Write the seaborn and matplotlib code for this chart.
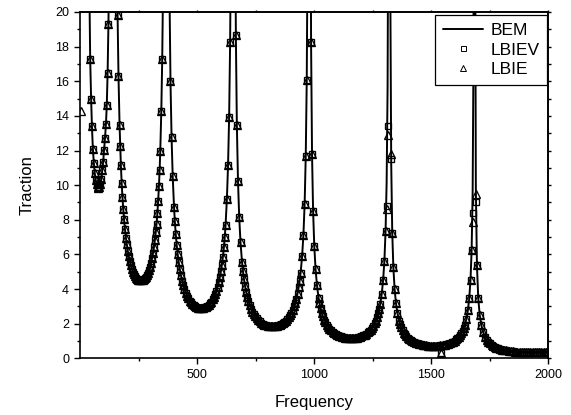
import numpy as np
import pandas as pd
import matplotlib
matplotlib.use("Agg")
import matplotlib.pyplot as plt
import seaborn as sns
from matplotlib.lines import Line2D
from matplotlib.ticker import FixedLocator, MultipleLocator, NullFormatter

# ---------------- data ----------------
# lowest-frequency branch (left of the ~143 Hz resonance)
seg0_freq = [36, 40, 43.5, 47.5, 51, 55, 59, 63, 67, 71, 75, 79, 83, 87, 91, 95, 99,
             103, 107, 111, 114.5, 118, 121.5, 125, 129, 133, 137, 140.5]
seg0_val = [28.0, 21.5, 17.3, 15.0, 13.4, 12.1, 11.3, 10.7, 10.3, 10.05, 9.92, 9.85, 9.9,
            10.05, 10.35, 10.85, 11.35, 12.05, 12.75, 13.55, 14.65, 16.5, 19.3, 23.5, 30.5,
            42.0, 66.0, 140.0]

# 143 Hz -> 369 Hz
s1_freq = [143.9, 145.7, 148.0, 150.7, 153.6, 157.0, 160.6, 164.5, 169.0, 174.6, 181.4, 188.2,
           196.1, 204.0, 213.1, 222.1, 231.1, 240.2, 249.2, 262.8, 271.8, 280.9, 289.9, 298.9,
           308.0, 315.9, 323.8, 330.6, 337.4, 343.0, 347.5, 351.4, 355.0, 358.4, 361.3, 364.0,
           366.3, 368.1]
s1_val = [386.6, 128.7, 70.2, 45.4, 32.8, 24.9, 19.8, 16.3, 13.5, 11.18, 9.31, 8.02, 6.97, 6.22,
          5.61, 5.17, 4.87, 4.66, 4.54, 4.50, 4.56, 4.70, 4.93, 5.28, 5.78, 6.40, 7.29, 8.37,
          9.96, 11.95, 14.31, 17.30, 21.6, 28.4, 39.1, 60.2, 110.1, 329.8]
s1v_freq = [171.7, 178.0, 184.8, 192.0, 200.0, 208.5, 217.6, 226.6, 235.7, 244.7, 253.7, 258.3,
            267.3, 276.3, 285.4, 294.4, 303.5, 312.0, 320.0, 327.2, 334.0, 340.3]
s1v_val = [12.28, 10.15, 8.61, 7.47, 6.58, 5.89, 5.37, 5.01, 4.75, 4.59, 4.51, 4.50, 4.52, 4.62,
           4.80, 5.09, 5.50, 6.07, 6.82, 7.78, 9.09, 10.88]

# 369 Hz -> 655 Hz
s2_freq = [370.1, 372.4, 375.3, 378.7, 382.4, 386.7, 391.3, 396.2, 401.9, 409.0, 417.6, 426.2,
           436.2, 446.2, 457.7, 469.1, 480.5, 492.0, 503.4, 520.6, 532.0, 543.5, 554.9, 566.3,
           577.8, 587.8, 597.8, 606.4, 615.0, 622.1, 627.8, 632.7, 637.3, 641.6, 645.3, 648.7,
           651.6, 653.9]
s2_val = [249.1, 82.9, 45.2, 29.2, 21.1, 16.0, 12.76, 10.50, 8.71, 7.20, 6.00, 5.17, 4.49, 4.01,
          3.61, 3.33, 3.14, 3.00, 2.93, 2.90, 2.94, 3.03, 3.18, 3.40, 3.72, 4.13, 4.70, 5.40,
          6.42, 7.70, 9.22, 11.15, 13.93, 18.28, 25.2, 38.8, 70.9, 212.5]
s2v_freq = [405.3, 413.3, 421.9, 431.1, 441.1, 451.9, 463.4, 474.8, 486.3, 497.7, 509.1, 514.9,
            526.3, 537.7, 549.2, 560.6, 572.1, 582.9, 592.9, 602.1, 610.7, 618.7]
s2v_val = [7.91, 6.54, 5.55, 4.81, 4.24, 3.79, 3.46, 3.23, 3.06, 2.96, 2.91, 2.90, 2.91, 2.98,
           3.09, 3.28, 3.55, 3.91, 4.39, 5.02, 5.86, 7.01]

# 655 Hz -> 980 Hz
s3_freq = [656.3, 658.9, 662.2, 666.1, 670.3, 675.2, 680.4, 685.9, 692.4, 700.5, 710.3, 720.0,
           731.4, 742.8, 755.8, 768.8, 781.8, 794.8, 807.8, 827.3, 840.3, 853.3, 866.3, 879.3,
           892.3, 903.6, 915.0, 924.8, 934.5, 942.6, 949.1, 954.7, 959.9, 964.7, 969.0, 972.9,
           976.1, 978.7]
s3_val = [158.9, 52.9, 28.8, 18.65, 13.49, 10.23, 8.14, 6.70, 5.56, 4.60, 3.83, 3.30, 2.87, 2.56,
          2.31, 2.13, 2.00, 1.92, 1.87, 1.85, 1.87, 1.93, 2.03, 2.17, 2.38, 2.63, 3.00, 3.44,
          4.10, 4.91, 5.88, 7.11, 8.89, 11.66, 16.06, 24.7, 45.2, 135.6]
s3v_freq = [696.3, 705.4, 715.1, 725.5, 736.9, 749.3, 762.3, 775.3, 788.3, 801.3, 814.3, 820.8,
            833.8, 846.8, 859.8, 872.8, 885.8, 898.1, 909.5, 919.9, 929.6, 938.7]
s3v_val = [5.05, 4.17, 3.54, 3.07, 2.70, 2.42, 2.21, 2.06, 1.95, 1.89, 1.85, 1.85, 1.86, 1.90,
           1.97, 2.09, 2.26, 2.50, 2.80, 3.20, 3.74, 4.47]

# 980 Hz -> 1322 Hz
s4_freq = [981.4, 984.1, 987.5, 991.6, 996.1, 1001.2, 1006.7, 1012.5, 1019.3, 1027.9, 1038.1,
           1048.4, 1060.4, 1072.3, 1086.0, 1099.7, 1113.4, 1127.1, 1140.7, 1161.3, 1174.9,
           1188.6, 1202.3, 1216.0, 1229.7, 1241.6, 1253.6, 1263.9, 1274.1, 1282.7, 1289.5,
           1295.3, 1300.8, 1305.9, 1310.4, 1314.5, 1317.9, 1320.6]
s4_val = [100.5, 33.5, 18.24, 11.79, 8.53, 6.47, 5.15, 4.24, 3.51, 2.91, 2.42, 2.09, 1.81, 1.62,
          1.46, 1.34, 1.27, 1.21, 1.18, 1.17, 1.19, 1.22, 1.28, 1.37, 1.50, 1.66, 1.89, 2.18,
          2.59, 3.11, 3.72, 4.50, 5.62, 7.38, 10.16, 15.65, 28.6, 85.7]
s4v_freq = [1023.4, 1033.0, 1043.3, 1054.2, 1066.2, 1079.2, 1092.9, 1106.5, 1120.2, 1133.9,
            1147.6, 1154.4, 1168.1, 1181.8, 1195.5, 1209.1, 1222.8, 1235.8, 1247.8, 1258.7,
            1269.0, 1278.6]
s4v_val = [3.19, 2.64, 2.24, 1.94, 1.71, 1.53, 1.40, 1.30, 1.24, 1.19, 1.17, 1.17, 1.18, 1.20,
           1.25, 1.32, 1.43, 1.58, 1.77, 2.02, 2.36, 2.83]

# 1322 Hz -> 1686 Hz
s5_freq = [1323.5, 1326.4, 1330.0, 1334.4, 1339.1, 1344.6, 1350.4, 1356.6, 1363.9, 1373.0,
           1383.9, 1394.8, 1407.5, 1420.3, 1434.8, 1449.4, 1464.0, 1478.5, 1493.1, 1514.9,
           1529.5, 1544.0, 1558.6, 1573.2, 1587.7, 1600.5, 1613.2, 1624.1, 1635.0, 1644.1,
           1651.4, 1657.6, 1663.4, 1668.9, 1673.6, 1678.0, 1681.6, 1684.5]
s5_val = [61.8, 20.6, 11.22, 7.26, 5.25, 3.98, 3.17, 2.61, 2.16, 1.79, 1.49, 1.28, 1.12, 1.00,
          0.90, 0.83, 0.78, 0.75, 0.73, 0.72, 0.73, 0.75, 0.79, 0.84, 0.92, 1.02, 1.17, 1.34,
          1.59, 1.91, 2.29, 2.77, 3.46, 4.54, 6.25, 9.63, 17.61, 52.8]
s5v_freq = [1368.2, 1378.4, 1389.3, 1401.0, 1413.7, 1427.6, 1442.1, 1456.7, 1471.2, 1485.8,
            1500.4, 1507.6, 1522.2, 1536.8, 1551.3, 1565.9, 1580.4, 1594.3, 1607.0, 1618.7,
            1629.6, 1639.8]
s5v_val = [1.96, 1.62, 1.38, 1.19, 1.05, 0.94, 0.86, 0.80, 0.76, 0.73, 0.72, 0.72, 0.72, 0.74,
           0.77, 0.81, 0.88, 0.97, 1.09, 1.25, 1.45, 1.74]

# 1686 Hz -> 2000 Hz
s6_freq = [1687.9, 1691.6, 1696.3, 1701.9, 1708.0, 1715.1, 1722.6, 1730.6, 1739.9, 1751.7,
           1765.7, 1779.8, 1796.2, 1812.6, 1831.4, 1850.2, 1868.9, 1887.7, 1906.4, 1934.6,
           1953.3, 1972.1, 1990.9, 2000.0]
s6_val = [29.6, 9.87, 5.38, 3.48, 2.52, 1.91, 1.52, 1.25, 1.04, 0.857, 0.713, 0.615, 0.534,
          0.477, 0.430, 0.396, 0.373, 0.357, 0.348, 0.345, 0.350, 0.360, 0.378, 0.390]
s6v_freq = [1745.6, 1758.7, 1772.8, 1787.8, 1804.2, 1822.0, 1840.8, 1859.5, 1878.3, 1897.1,
            1915.8, 1925.2, 1944.0, 1962.7, 1981.5]
s6v_val = [0.941, 0.778, 0.660, 0.572, 0.504, 0.451, 0.412, 0.384, 0.364, 0.352, 0.346, 0.345,
           0.347, 0.354, 0.368]

# where the LBIEV / LBIE markers depart from the BEM curve
lbiev_fix = {1310.4: 8.8, 1314.5: 13.4, 1330.0: 11.5, 1544.0: 0.30, 1678.0: 8.4, 1691.6: 9.0}
lbie_fix = {1310.4: 8.6, 1314.5: 12.9, 1330.0: 11.8, 1544.0: 0.30, 1678.0: 7.9, 1691.6: 9.5}
lbie_extra_freq = [5.0]
lbie_extra_val = [14.3]

series_labels = ["BEM", "LBIEV", "LBIE"]
x_label = "Frequency"
y_label = "Traction"

# ---------------- build tables ----------------
freq = np.concatenate([seg0_freq, s1_freq, s1v_freq, s2_freq, s2v_freq, s3_freq, s3v_freq,
                       s4_freq, s4v_freq, s5_freq, s5v_freq, s6_freq, s6v_freq])
bem = np.concatenate([seg0_val, s1_val, s1v_val, s2_val, s2v_val, s3_val, s3v_val,
                      s4_val, s4v_val, s5_val, s5v_val, s6_val, s6v_val])

df = pd.DataFrame({"Frequency": freq, "BEM": bem}).sort_values("Frequency").reset_index(drop=True)
df["LBIEV"] = df["Frequency"].map(lbiev_fix).fillna(df["BEM"])
df["LBIE"] = df["Frequency"].map(lbie_fix).fillna(df["BEM"])
df_lbie = pd.concat([pd.DataFrame({"Frequency": lbie_extra_freq, "LBIE": lbie_extra_val}),
                     df[["Frequency", "LBIE"]]], ignore_index=True)

# ---------------- style ----------------
sns.set_theme(style="ticks", rc={
    "axes.edgecolor": "black", "xtick.color": "black", "ytick.color": "black",
    "text.color": "black", "axes.labelcolor": "black", "axes.linewidth": 1.2,
})
plt.rcParams["font.family"] = ["Liberation Sans", "DejaVu Sans"]

W, H = 571, 415
fig = plt.figure(figsize=(W / 100, H / 100), dpi=100)
ax = fig.add_axes([80 / W, 1 - 358.3 / H, 468 / W, 346.3 / H])

sns.lineplot(data=df, x="Frequency", y="BEM", ax=ax, color="black", linewidth=1.4,
             estimator=None, sort=False, zorder=2)
sns.lineplot(data=df, x="Frequency", y="LBIEV", ax=ax, color="black", linestyle="none",
             marker="s", markersize=4.8, markerfacecolor="none", markeredgecolor="black",
             markeredgewidth=0.95, estimator=None, sort=False, zorder=3)
sns.lineplot(data=df_lbie, x="Frequency", y="LBIE", ax=ax, color="black", linestyle="none",
             marker="^", markersize=5.3, markerfacecolor="none", markeredgecolor="black",
             markeredgewidth=0.95, estimator=None, sort=False, zorder=3)

ax.set_xlim(0, 2000)
ax.set_ylim(0, 20)
ax.xaxis.set_major_locator(FixedLocator([500, 1000, 1500, 2000]))
ax.xaxis.set_minor_locator(FixedLocator([250, 750, 1250, 1750]))
ax.yaxis.set_major_locator(MultipleLocator(2))
ax.yaxis.set_minor_locator(MultipleLocator(1))
ax.tick_params(which="major", direction="out", length=4.3, width=1.0, labelsize=9, pad=3.5)
ax.tick_params(which="minor", direction="out", length=2.5, width=1.0)

ax.set_xlabel(x_label, fontsize=12, labelpad=10)
ax.set_ylabel(y_label, fontsize=12, labelpad=15)

for sp in ax.spines.values():
    sp.set_visible(True)
    sp.set_linewidth(1.2)

# small outward ticks on top and right edges
secx = ax.secondary_xaxis("top")
secx.xaxis.set_major_locator(FixedLocator([250, 500, 750, 1000, 1250, 1500, 1750, 2000]))
secx.xaxis.set_major_formatter(NullFormatter())
secx.tick_params(direction="out", length=1.5, width=1.0)
secy = ax.secondary_yaxis("right")
secy.yaxis.set_major_locator(MultipleLocator(1))
secy.yaxis.set_major_formatter(NullFormatter())
secy.tick_params(direction="out", length=1.8, width=1.0)

handles = [
    Line2D([], [], color="black", linewidth=1.4),
    Line2D([], [], linestyle="none", marker="s", markersize=3.6, markerfacecolor="none",
           markeredgecolor="black", markeredgewidth=0.7),
    Line2D([], [], linestyle="none", marker="^", markersize=4.0, markerfacecolor="none",
           markeredgecolor="black", markeredgewidth=0.7),
]
leg = ax.legend(handles, series_labels, loc="upper right", bbox_to_anchor=(0.998, 0.991),
                borderaxespad=0, frameon=True, fancybox=False, edgecolor="black",
                framealpha=1, fontsize=12.5, handlelength=2.3, handletextpad=0.4,
                labelspacing=0.25, borderpad=0.45)
leg.get_frame().set_linewidth(0.9)

fig.savefig("out.png", dpi=100)
